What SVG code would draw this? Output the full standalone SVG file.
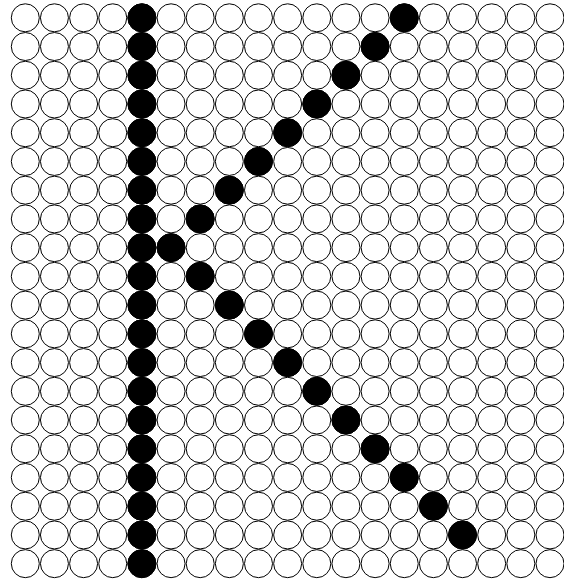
<svg xmlns="http://www.w3.org/2000/svg" xmlns:xlink="http://www.w3.org/1999/xlink" width="564" height="582" viewBox="0 0 564 582">
<style>
.off{fill:#ffffff;stroke:#000000;stroke-width:1}
.on{fill:#000000;stroke:#000000;stroke-width:1}
</style>
<defs>
<g id="row" class="off">
<circle cx="25.3" cy="0" r="14"/><circle cx="54.45" cy="0" r="14"/><circle cx="83.6" cy="0" r="14"/><circle cx="112.75" cy="0" r="14"/><circle cx="141.9" cy="0" r="14"/><circle cx="171.05" cy="0" r="14"/><circle cx="200.2" cy="0" r="14"/><circle cx="229.35" cy="0" r="14"/><circle cx="258.5" cy="0" r="14"/><circle cx="287.65" cy="0" r="14"/><circle cx="316.8" cy="0" r="14"/><circle cx="345.95" cy="0" r="14"/><circle cx="375.1" cy="0" r="14"/><circle cx="404.25" cy="0" r="14"/><circle cx="433.4" cy="0" r="14"/><circle cx="462.55" cy="0" r="14"/><circle cx="491.7" cy="0" r="14"/><circle cx="520.85" cy="0" r="14"/><circle cx="550" cy="0" r="14"/>
</g>
</defs>
<rect width="564" height="582" fill="#ffffff"/>
<g id="grid">
<use href="#row" y="17.8"/><use href="#row" y="46.53"/><use href="#row" y="75.26"/><use href="#row" y="103.99"/><use href="#row" y="132.72"/><use href="#row" y="161.45"/><use href="#row" y="190.18"/><use href="#row" y="218.91"/><use href="#row" y="247.64"/><use href="#row" y="276.37"/><use href="#row" y="305.1"/><use href="#row" y="333.83"/><use href="#row" y="362.56"/><use href="#row" y="391.29"/><use href="#row" y="420.02"/><use href="#row" y="448.75"/><use href="#row" y="477.48"/><use href="#row" y="506.21"/><use href="#row" y="534.94"/><use href="#row" y="563.67"/>
</g>
<g id="stem" class="on">
<circle cx="141.9" cy="17.8" r="14"/><circle cx="141.9" cy="46.53" r="14"/><circle cx="141.9" cy="75.26" r="14"/><circle cx="141.9" cy="103.99" r="14"/><circle cx="141.9" cy="132.72" r="14"/><circle cx="141.9" cy="161.45" r="14"/><circle cx="141.9" cy="190.18" r="14"/><circle cx="141.9" cy="218.91" r="14"/><circle cx="141.9" cy="247.64" r="14"/><circle cx="141.9" cy="276.37" r="14"/><circle cx="141.9" cy="305.1" r="14"/><circle cx="141.9" cy="333.83" r="14"/><circle cx="141.9" cy="362.56" r="14"/><circle cx="141.9" cy="391.29" r="14"/><circle cx="141.9" cy="420.02" r="14"/><circle cx="141.9" cy="448.75" r="14"/><circle cx="141.9" cy="477.48" r="14"/><circle cx="141.9" cy="506.21" r="14"/><circle cx="141.9" cy="534.94" r="14"/><circle cx="141.9" cy="563.67" r="14"/>
</g>
<g id="upper-arm" class="on">
<circle cx="404.25" cy="17.8" r="14"/><circle cx="375.1" cy="46.53" r="14"/><circle cx="345.95" cy="75.26" r="14"/><circle cx="316.8" cy="103.99" r="14"/><circle cx="287.65" cy="132.72" r="14"/><circle cx="258.5" cy="161.45" r="14"/><circle cx="229.35" cy="190.18" r="14"/><circle cx="200.2" cy="218.91" r="14"/><circle cx="171.05" cy="247.64" r="14"/>
</g>
<g id="lower-arm" class="on">
<circle cx="200.2" cy="276.37" r="14"/><circle cx="229.35" cy="305.1" r="14"/><circle cx="258.5" cy="333.83" r="14"/><circle cx="287.65" cy="362.56" r="14"/><circle cx="316.8" cy="391.29" r="14"/><circle cx="345.95" cy="420.02" r="14"/><circle cx="375.1" cy="448.75" r="14"/><circle cx="404.25" cy="477.48" r="14"/><circle cx="433.4" cy="506.21" r="14"/><circle cx="462.55" cy="534.94" r="14"/>
</g>
</svg>
